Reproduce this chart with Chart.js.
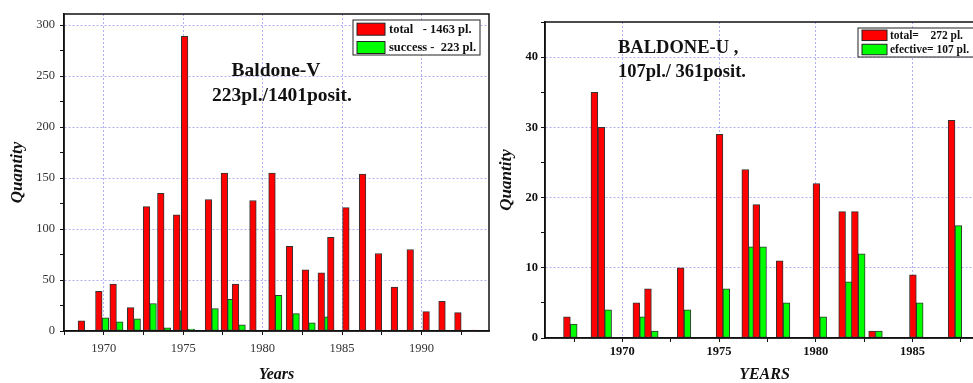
<!DOCTYPE html>
<html>
<head>
<meta charset="utf-8">
<script src="https://cdn.jsdelivr.net/npm/chart.js@4/dist/chart.umd.min.js"></script>
<style>
  html, body { margin: 0; padding: 0; background: #fff; overflow: hidden; width: 973px; height: 383px; }
  canvas { position: absolute; top: 0; }
  #left { left: 0; }
  #right { left: 490px; }
</style>
</head>
<body>
<canvas id="left" width="490" height="383"></canvas>
<canvas id="right" width="500" height="383"></canvas>
<script>
// Baldone-V : positions (years), total and successful
const vYears = [1968.8, 1969.9, 1970.8, 1971.9, 1972.9, 1973.8, 1974.8, 1975.3, 1976.8, 1977.8,
                1978.5, 1979.6, 1980.8, 1981.9, 1982.9, 1983.9, 1984.5, 1985.45, 1986.5, 1987.5,
                1988.5, 1989.5, 1990.5, 1991.5, 1992.5, 1993.5];
const vTotal   = [10, 39, 46, 23, 122, 135, 114, 289, 129, 155, 46, 128, 155, 83, 60, 57, 92, 121, 154, 76, 43, 80, 19, 29, 18, 1];
const vSuccess = [null, 13, 9, 12, 27, 3, 20, 2, 22, 31, 6, null, 35, 17, 8, 14, null, null, null, null, null, null, null, null, null, null];
const vYearLabels = [1970, 1975, 1980, 1985, 1990];
const vQtyLabels = [0, 50, 100, 150, 200, 250, 300];

// Baldone-U
const uYears = [1967.31, 1968.73, 1969.09, 1970.9, 1971.5, 1973.19, 1975.2, 1976.53, 1977.1, 1978.31,
                1980.21, 1981.54, 1982.2, 1983.09, 1985.2, 1987.2];
const uTotal     = [3, 35, 30, 5, 7, 10, 29, 24, 19, 11, 22, 18, 18, 1, 9, 31];
const uEfective  = [2, 10, 4, 3, 1, 4, 7, 13, 13, 5, 3, 8, 12, 1, 5, 16];
const uYearLabels = [1970, 1975, 1980, 1985];
const uQtyLabels = [0, 10, 20, 30, 40];

const GRID = 'rgba(110,110,235,0.55)';
const SERIF = '"Liberation Serif", "DejaVu Serif", serif';

const pts = (xs, ys) => xs.map((x, i) => ({ x: x, y: ys[i] }));

// frame around the plot, the caption inside it and the boxed legend
const frameNotes = {
  id: 'frameNotes',
  afterDraw(chart, args, opts) {
    const { ctx, chartArea: a } = chart;
    ctx.save();
    ctx.strokeStyle = '#111';
    ctx.lineWidth = 1.5;
    ctx.strokeRect(a.left, a.top, a.right - a.left, a.bottom - a.top);

    ctx.fillStyle = '#111';
    ctx.textBaseline = 'middle';
    opts.notes.forEach(n => {
      ctx.font = n.font;
      ctx.textAlign = n.align;
      ctx.fillText(n.text, a.left + n.dx, a.top + n.dy);
    });

    const L = opts.legend;
    const bx = a.right - L.right - L.width, by = a.top + L.top;
    ctx.fillStyle = '#fff';
    ctx.fillRect(bx, by, L.width, L.height);
    ctx.lineWidth = 1;
    ctx.strokeStyle = '#222';
    ctx.strokeRect(bx, by, L.width, L.height);
    ctx.font = L.font;
    ctx.textAlign = 'left';
    chart.data.datasets.forEach((ds, i) => {
      const cy = by + L.first + i * L.rowH;
      ctx.fillStyle = ds.backgroundColor;
      ctx.fillRect(bx + L.padX, cy - L.swH / 2, L.swW, L.swH);
      ctx.strokeRect(bx + L.padX, cy - L.swH / 2, L.swW, L.swH);
      ctx.fillStyle = '#111';
      ctx.fillText(ds.label, bx + L.padX + L.swW + L.gap, cy + 0.5);
    });
    ctx.restore();
  }
};

function makeChart(id, o) {
  return new Chart(document.getElementById(id), {
    type: 'bar',
    data: {
      datasets: [
        { label: o.labels[0], data: pts(o.years, o.a), backgroundColor: '#ff0000', borderColor: '#333',
          borderWidth: 1, borderSkipped: false, barThickness: o.barW },
        { label: o.labels[1], data: pts(o.years, o.b), backgroundColor: '#00ff00', borderColor: '#333',
          borderWidth: 1, borderSkipped: false, barThickness: o.barW }
      ]
    },
    options: {
      responsive: false,
      animation: false,
      layout: { padding: o.padding },
      plugins: {
        legend: { display: false },
        tooltip: { enabled: false },
        frameNotes: { notes: o.notes, legend: o.legend }
      },
      scales: {
        x: {
          type: 'linear', min: o.xMin, max: o.xMax, offset: false,
          afterFit: s => { s.height = o.xHeight; },
          grid: {
            offset: false, tickLength: 4, tickColor: '#111',
            color: c => (c.tick && o.xLabels.includes(c.tick.value)) ? GRID : 'rgba(0,0,0,0)'
          },
          border: { color: '#111', width: 1.5, dash: [2, 2] },
          ticks: {
            stepSize: 2.5, autoSkip: false, maxRotation: 0, includeBounds: false,
            padding: o.xPad, color: o.tickColor, font: o.tickFont,
            callback: v => o.xLabels.includes(v) ? String(v) : ''
          },
          title: {
            display: true, text: o.xTitle, color: '#111', padding: { top: 0, bottom: 0 },
            font: { family: SERIF, size: 16, weight: 'bold', style: 'italic', lineHeight: 1 }
          }
        },
        y: {
          min: 0, max: o.yMax,
          afterFit: s => { s.width = o.yWidth; },
          grid: {
            tickLength: 4, tickColor: '#111',
            color: c => (c.tick && c.tick.value !== 0 && o.yLabels.includes(c.tick.value)) ? GRID : 'rgba(0,0,0,0)'
          },
          border: { color: '#111', width: 1.5, dash: [2, 2] },
          ticks: {
            stepSize: o.yStep, autoSkip: false, includeBounds: false,
            padding: o.yPad, color: o.tickColor, font: o.tickFont,
            callback: v => o.yLabels.includes(v) ? String(v) : ''
          },
          title: {
            display: true, text: 'Quantity', color: '#111', padding: { top: o.yTitlePad, bottom: 0 },
            font: { family: SERIF, size: 17, weight: 'bold', style: 'italic', lineHeight: 1 }
          }
        }
      }
    },
    plugins: [frameNotes]
  });
}

makeChart('left', {
  years: vYears, a: vTotal, b: vSuccess,
  labels: ['total   - 1463 pl.', 'success -  223 pl.'],
  barW: 6.6, xMin: 1967.5, xMax: 1994.25, yMax: 311, yStep: 25,
  xLabels: vYearLabels, yLabels: vQtyLabels, xTitle: 'Years',
  padding: { top: 14, right: 1, left: 0, bottom: 0 },
  xHeight: 52, yWidth: 64, xPad: 6, yPad: 5, yTitlePad: 9.5,
  tickColor: '#333', tickFont: { family: SERIF, size: 12.5 },
  notes: [
    { text: 'Baldone-V', dx: 212, dy: 56.5, align: 'center', font: 'bold 19.5px ' + SERIF },
    { text: '223pl./1401posit.', dx: 218, dy: 82, align: 'center', font: 'bold 19.5px ' + SERIF }
  ],
  legend: { right: 9, top: 6, width: 127, height: 35, first: 9.2, rowH: 18.3,
            padX: 4, swW: 28, swH: 12, gap: 4, font: 'bold 12.5px ' + SERIF }
});

makeChart('right', {
  years: uYears, a: uTotal, b: uEfective,
  labels: ['total=    272 pl.', 'efective= 107 pl.'],
  barW: 6.8, xMin: 1966, xMax: 1988.7, yMax: 45, yStep: 5,
  xLabels: uYearLabels, yLabels: uQtyLabels, xTitle: 'YEARS',
  padding: { top: 22, right: 6, left: 0, bottom: 0 },
  xHeight: 45, yWidth: 55, xPad: 2.5, yPad: 3, yTitlePad: 8.5,
  tickColor: '#111', tickFont: { family: SERIF, size: 12.5, weight: 'bold' },
  notes: [
    { text: 'BALDONE-U ,', dx: 73, dy: 26, align: 'left', font: 'bold 18.5px ' + SERIF },
    { text: '107pl./ 361posit.', dx: 73, dy: 50, align: 'left', font: 'bold 18.5px ' + SERIF }
  ],
  legend: { right: 7, top: 6, width: 119, height: 29, first: 7.3, rowH: 14.2,
            padX: 4, swW: 25, swH: 10.5, gap: 3, font: 'bold 11.5px ' + SERIF }
});
</script>
</body>
</html>
